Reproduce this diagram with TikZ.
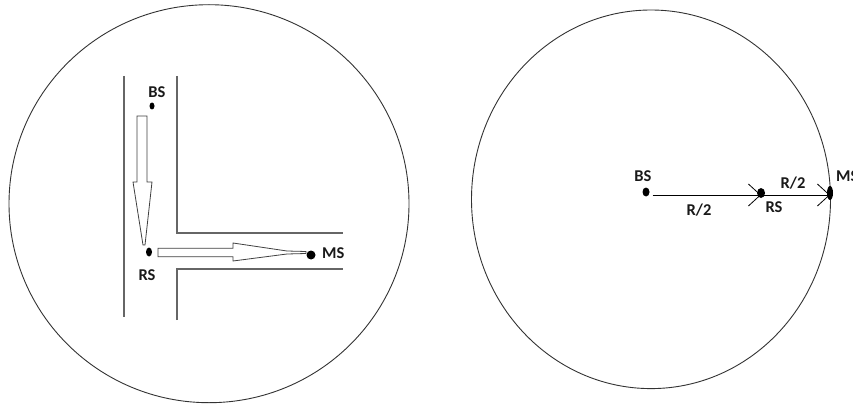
\documentclass[tikz,border=0pt]{standalone}
\usepackage{fontspec}
\setmainfont{Carlito}
\usetikzlibrary{arrows.meta,shapes.geometric}
\begin{document}
\begin{tikzpicture}[x=1pt,y=-1pt,
  lbl/.style={font=\bfseries\fontsize{16.5}{16.5}\selectfont, text=black!90, inner sep=0pt},
  dot/.style={ellipse, fill=black, inner sep=0pt},
  rim/.style={draw=black!80, line width=0.9pt},
  street/.style={draw=black!60, line width=1.4pt},
  blockarrow/.style={draw=black!75, line width=0.8pt, fill=white, line join=miter},
  link/.style={draw=black, line width=0.9pt, -{Straight Barb[length=12pt,width=22pt,line width=0.8pt]}}
]
\useasboundingbox (0,0) rectangle (853,406);
\clip (0,0) rectangle (853,406);

% ---------- left picture ----------
\draw[rim] (209,203.7) ellipse [x radius=200, y radius=199];

\draw[street] (124,76) -- (124,317);
\draw[street] (177,76) -- (177,233) -- (343,233);
\draw[street] (177,320) -- (177,269) -- (343,269);

\node[dot, minimum width=5pt, minimum height=7pt] (bsL) at (152,106) {};
\node[dot, minimum width=6pt, minimum height=9pt] (rsL) at (149,252) {};
\node[dot, minimum width=9pt, minimum height=9pt] (msL) at (311,255) {};

\node[lbl] (bsLl) at (157,92) {BS};
\node[lbl] (rsLl) at (147,275) {RS};
\node[lbl, anchor=west] (msLl) at (322,253) {MS};

% hollow block arrows
\draw[blockarrow] (137,116) -- (147,116) -- (147,182) -- (152,182)
   -- (145,245) -- (143,245) -- (133,182) -- (137,182) -- cycle;
\draw[blockarrow] (158,248.3) -- (233,248.3) -- (233,243) -- (287,251)
   -- (306,251.5) -- (306,253.5) -- (287,254) -- (233,261) -- (233,256.7) -- (158,256.7) -- cycle;

% ---------- right picture ----------
\draw[rim] (651,199.3) ellipse [x radius=179.5, y radius=189.3];

\node[dot, minimum width=7pt, minimum height=9pt] (bsR) at (646,192) {};
\node[dot, minimum width=8pt, minimum height=10pt] (rsR) at (761,193) {};
\node[dot, minimum width=6pt, minimum height=14pt] (msR) at (830,193) {};

\draw[link, shorten <=3pt] (bsR.east |- 0,195) coordinate (bsRe) (bsRe) -- (rsR.center |- bsRe);
\draw[link] (rsR.center |- 0,195) coordinate (rsRe) (rsRe) -- (msR.center |- rsRe);

\node[lbl] (bsRl) at (643,176) {BS};
\node[lbl] (rsRl) at (774,207) {RS};
\node[lbl] (msRl) [anchor=west] at (836,176) {MS};
\node[lbl] (r1) at (699,210) {R/2};
\node[lbl] (r2) at (793,183) {R/2};
\end{tikzpicture}
\end{document}
